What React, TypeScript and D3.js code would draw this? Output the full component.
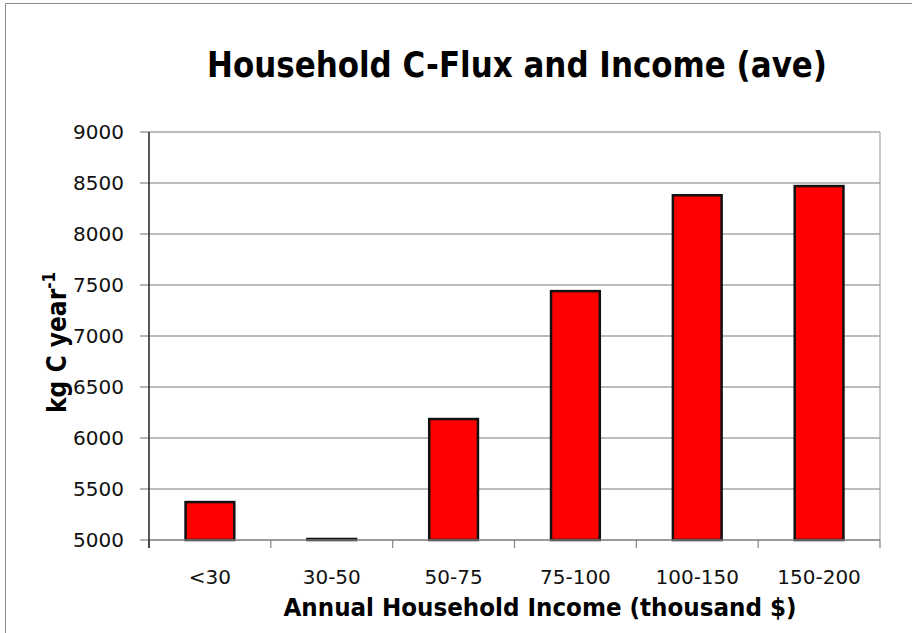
import React from "react";
import * as d3 from "d3";

const categories = ["<30", "30-50", "50-75", "75-100", "100-150", "150-200"];
const values = [5372, 5010, 6186, 7440, 8380, 8470];
const yTicks = [5000, 5500, 6000, 6500, 7000, 7500, 8000, 8500, 9000];

const W = 912;
const H = 633;
const left = 149;
const right = 880;
const top = 132;
const bottom = 540;

export default function App() {
  const x = d3
    .scaleBand<string>()
    .domain(categories)
    .range([left, right])
    .paddingInner(0.6)
    .paddingOuter(0.3);
  const step = (right - left) / categories.length;
  const y = d3.scaleLinear().domain([5000, 9000]).range([bottom, top]);
  const font = "'DejaVu Sans', sans-serif";
  const bold = "'DejaVu Sans Condensed', 'DejaVu Sans', sans-serif";

  return (
    <svg
      width={W}
      height={H}
      style={{ position: "absolute", left: 0, top: 0 }}
    >
      <rect x={0} y={0} width={W} height={H} fill="#fff" />
      <rect x={5.5} y={3.5} width={1200} height={1200} fill="none" stroke="#8c8c8c" strokeWidth={1} />
      <text
        x={517}
        y={77}
        textAnchor="middle"
        fontFamily={bold}
        fontWeight="bold"
        fontSize={35}
        textLength={620}
        lengthAdjust="spacingAndGlyphs"
      >
        Household C-Flux and Income (ave)
      </text>
      {yTicks.map((t) => (
        <g key={t}>
          {t !== 5000 && (
            <line x1={left} x2={right} y1={y(t)} y2={y(t)} stroke="#a6a6a6" strokeWidth={1.5} />
          )}
          <line x1={left - 9} x2={left} y1={y(t)} y2={y(t)} stroke="#868686" strokeWidth={1.2} />
          <text
            x={124}
            y={y(t) + 7}
            textAnchor="end"
            fontFamily={font}
            fontSize={20}
            fill="#111"
          >
            {t}
          </text>
        </g>
      ))}
      <line x1={right} x2={right} y1={top} y2={bottom} stroke="#a6a6a6" strokeWidth={1.2} />
      {categories.map((c, i) => (
        <line
          key={"t" + i}
          x1={left + step * i}
          x2={left + step * i}
          y1={bottom}
          y2={bottom + 8}
          stroke="#868686"
          strokeWidth={1.2}
        />
      ))}
      <line x1={right} x2={right} y1={bottom} y2={bottom + 8} stroke="#868686" strokeWidth={1.2} />
      {categories.map((c, i) => {
        const v = Math.max(values[i], 5000);
        const bx = x(c) as number;
        return (
          <rect
            key={c}
            x={bx}
            y={y(v)}
            width={x.bandwidth()}
            height={bottom - y(v)}
            fill="#ff0000"
            stroke="#111"
            strokeWidth={2.5}
          />
        );
      })}
      <line x1={left} x2={right} y1={bottom} y2={bottom} stroke="#7a7a7a" strokeWidth={1.5} />
      <line x1={left} x2={left} y1={top} y2={bottom + 8} stroke="#222" strokeWidth={1.5} />
      {categories.map((c) => (
        <text
          key={"l" + c}
          x={(x(c) as number) + x.bandwidth() / 2}
          y={584}
          textAnchor="middle"
          fontFamily={font}
          fontSize={20}
          fill="#111"
        >
          {c}
        </text>
      ))}
      <text
        x={540}
        y={616}
        textAnchor="middle"
        fontFamily={bold}
        fontWeight="bold"
        fontSize={25}
        textLength={513}
        lengthAdjust="spacingAndGlyphs"
      >
        Annual Household Income (thousand $)
      </text>
      <g transform="translate(66, 413) rotate(-90)">
        <text x={0} y={0} fontFamily={bold} fontWeight="bold" fontSize={26}>
          kg C year
          <tspan dy={-11} fontSize={17}>-1</tspan>
        </text>
      </g>
    </svg>
  );
}
